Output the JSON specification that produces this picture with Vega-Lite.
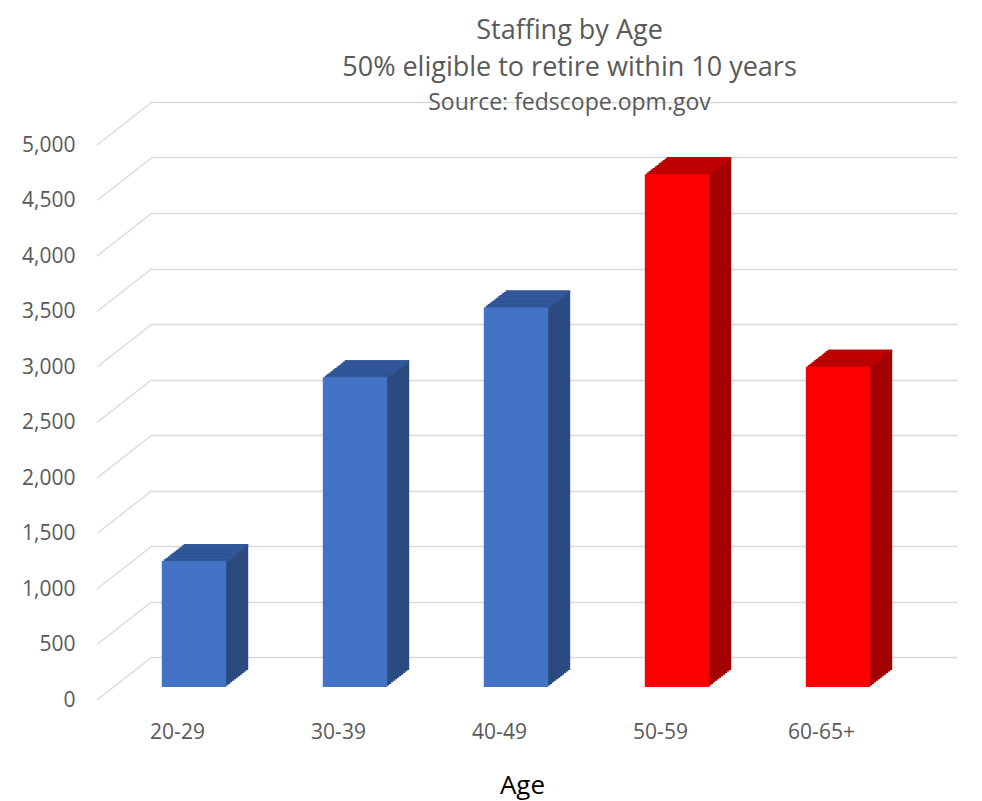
{
  "$schema": "https://vega.github.io/schema/vega-lite/v6.json",
  "width": 805,
  "height": 555,
  "autosize": {"type": "none"},
  "padding": {"left": 152, "top": 102, "right": 25, "bottom": 144},
  "background": "white",
  "config": {"view": {"stroke": null}, "font": "Open Sans"},
  "title": {
    "text": ["Staffing by Age", "50% eligible to retire within 10 years"],
    "subtitle": "Source: fedscope.opm.gov",
    "fontSize": 27,
    "fontWeight": "normal",
    "lineHeight": 37,
    "subtitleFontSize": 23,
    "subtitleColor": "#595959",
    "subtitlePadding": 10,
    "color": "#595959",
    "anchor": "middle",
    "dx": 15,
    "offset": -15
  },
  "data": {
    "values": [
      {"age": "20-29", "staff": 1135, "eligible": false},
      {"age": "30-39", "staff": 2790, "eligible": false},
      {"age": "40-49", "staff": 3420, "eligible": false},
      {"age": "50-59", "staff": 4620, "eligible": true},
      {"age": "60-65+", "staff": 2885, "eligible": true}
    ]
  },
  "encoding": {
    "x": {
      "field": "age", "type": "nominal", "sort": null,
      "scale": {"paddingInner": 0, "paddingOuter": 0},
      "axis": {
        "labelAngle": 0, "domain": false, "ticks": false,
        "labelOffset": -55, "labelPadding": 64,
        "labelFontSize": 21, "labelColor": "#595959",
        "title": "Age", "titleFontSize": 26, "titleColor": "#000000",
        "titleFontWeight": "normal", "titleX": 370, "titleY": 136,
        "titleBaseline": "alphabetic"
      }
    },
    "y": {
      "field": "staff", "type": "quantitative",
      "scale": {"domain": [0, 5000], "nice": false},
      "axis": {
        "values": [0, 500, 1000, 1500, 2000, 2500, 3000, 3500, 4000, 4500, 5000],
        "format": ",.0f", "domain": false, "ticks": false,
        "grid": true, "gridColor": "#D9D9D9", "gridWidth": 1.3,
        "labelOffset": 43, "labelPadding": 77,
        "labelFontSize": 21, "labelColor": "#595959", "title": null
      }
    }
  },
  "layer": [
    {
      "data": {"values": [{"v": 0}, {"v": 500}, {"v": 1000}, {"v": 1500}, {"v": 2000}, {"v": 2500}, {"v": 3000}, {"v": 3500}, {"v": 4000}, {"v": 4500}, {"v": 5000}]},
      "mark": {"type": "rule", "color": "#D9D9D9", "strokeWidth": 1.3, "x2Offset": -55, "y2Offset": 43},
      "encoding": {
        "x": {"datum": "20-29", "type": "nominal", "bandPosition": 0},
        "x2": {"datum": "20-29", "bandPosition": 0},
        "y": {"field": "v", "type": "quantitative", "title": null},
        "y2": {"field": "v"}
      }
    },
    {"mark": {"type": "bar", "width": {"band": 0.4}, "xOffset": -16.5, "x2Offset": -16.5, "yOffset": 13, "y2Offset": 13}, "encoding": {"color": {"condition": {"test": "datum.eligible", "value": "#A30000"}, "value": "#2B4A80"}}},
    {"mark": {"type": "bar", "width": {"band": 0.4}, "xOffset": -16.5, "x2Offset": -16.5, "yOffset": 13, "y2Offset": 15}, "encoding": {"y2": {"field": "staff"}, "color": {"condition": {"test": "datum.eligible", "value": "#C00000"}, "value": "#32579A"}}},
    {"mark": {"type": "bar", "width": {"band": 0.4}, "xOffset": -18.5, "x2Offset": -18.5, "yOffset": 14.545, "y2Offset": 14.545}, "encoding": {"color": {"condition": {"test": "datum.eligible", "value": "#A30000"}, "value": "#2B4A80"}}},
    {"mark": {"type": "bar", "width": {"band": 0.4}, "xOffset": -18.5, "x2Offset": -18.5, "yOffset": 14.545, "y2Offset": 16.545}, "encoding": {"y2": {"field": "staff"}, "color": {"condition": {"test": "datum.eligible", "value": "#C00000"}, "value": "#32579A"}}},
    {"mark": {"type": "bar", "width": {"band": 0.4}, "xOffset": -20.5, "x2Offset": -20.5, "yOffset": 16.091, "y2Offset": 16.091}, "encoding": {"color": {"condition": {"test": "datum.eligible", "value": "#A30000"}, "value": "#2B4A80"}}},
    {"mark": {"type": "bar", "width": {"band": 0.4}, "xOffset": -20.5, "x2Offset": -20.5, "yOffset": 16.091, "y2Offset": 18.091}, "encoding": {"y2": {"field": "staff"}, "color": {"condition": {"test": "datum.eligible", "value": "#C00000"}, "value": "#32579A"}}},
    {"mark": {"type": "bar", "width": {"band": 0.4}, "xOffset": -22.5, "x2Offset": -22.5, "yOffset": 17.636, "y2Offset": 17.636}, "encoding": {"color": {"condition": {"test": "datum.eligible", "value": "#A30000"}, "value": "#2B4A80"}}},
    {"mark": {"type": "bar", "width": {"band": 0.4}, "xOffset": -22.5, "x2Offset": -22.5, "yOffset": 17.636, "y2Offset": 19.636}, "encoding": {"y2": {"field": "staff"}, "color": {"condition": {"test": "datum.eligible", "value": "#C00000"}, "value": "#32579A"}}},
    {"mark": {"type": "bar", "width": {"band": 0.4}, "xOffset": -24.5, "x2Offset": -24.5, "yOffset": 19.182, "y2Offset": 19.182}, "encoding": {"color": {"condition": {"test": "datum.eligible", "value": "#A30000"}, "value": "#2B4A80"}}},
    {"mark": {"type": "bar", "width": {"band": 0.4}, "xOffset": -24.5, "x2Offset": -24.5, "yOffset": 19.182, "y2Offset": 21.182}, "encoding": {"y2": {"field": "staff"}, "color": {"condition": {"test": "datum.eligible", "value": "#C00000"}, "value": "#32579A"}}},
    {"mark": {"type": "bar", "width": {"band": 0.4}, "xOffset": -26.5, "x2Offset": -26.5, "yOffset": 20.727, "y2Offset": 20.727}, "encoding": {"color": {"condition": {"test": "datum.eligible", "value": "#A30000"}, "value": "#2B4A80"}}},
    {"mark": {"type": "bar", "width": {"band": 0.4}, "xOffset": -26.5, "x2Offset": -26.5, "yOffset": 20.727, "y2Offset": 22.727}, "encoding": {"y2": {"field": "staff"}, "color": {"condition": {"test": "datum.eligible", "value": "#C00000"}, "value": "#32579A"}}},
    {"mark": {"type": "bar", "width": {"band": 0.4}, "xOffset": -28.5, "x2Offset": -28.5, "yOffset": 22.273, "y2Offset": 22.273}, "encoding": {"color": {"condition": {"test": "datum.eligible", "value": "#A30000"}, "value": "#2B4A80"}}},
    {"mark": {"type": "bar", "width": {"band": 0.4}, "xOffset": -28.5, "x2Offset": -28.5, "yOffset": 22.273, "y2Offset": 24.273}, "encoding": {"y2": {"field": "staff"}, "color": {"condition": {"test": "datum.eligible", "value": "#C00000"}, "value": "#32579A"}}},
    {"mark": {"type": "bar", "width": {"band": 0.4}, "xOffset": -30.5, "x2Offset": -30.5, "yOffset": 23.818, "y2Offset": 23.818}, "encoding": {"color": {"condition": {"test": "datum.eligible", "value": "#A30000"}, "value": "#2B4A80"}}},
    {"mark": {"type": "bar", "width": {"band": 0.4}, "xOffset": -30.5, "x2Offset": -30.5, "yOffset": 23.818, "y2Offset": 25.818}, "encoding": {"y2": {"field": "staff"}, "color": {"condition": {"test": "datum.eligible", "value": "#C00000"}, "value": "#32579A"}}},
    {"mark": {"type": "bar", "width": {"band": 0.4}, "xOffset": -32.5, "x2Offset": -32.5, "yOffset": 25.364, "y2Offset": 25.364}, "encoding": {"color": {"condition": {"test": "datum.eligible", "value": "#A30000"}, "value": "#2B4A80"}}},
    {"mark": {"type": "bar", "width": {"band": 0.4}, "xOffset": -32.5, "x2Offset": -32.5, "yOffset": 25.364, "y2Offset": 27.364}, "encoding": {"y2": {"field": "staff"}, "color": {"condition": {"test": "datum.eligible", "value": "#C00000"}, "value": "#32579A"}}},
    {"mark": {"type": "bar", "width": {"band": 0.4}, "xOffset": -34.5, "x2Offset": -34.5, "yOffset": 26.909, "y2Offset": 26.909}, "encoding": {"color": {"condition": {"test": "datum.eligible", "value": "#A30000"}, "value": "#2B4A80"}}},
    {"mark": {"type": "bar", "width": {"band": 0.4}, "xOffset": -34.5, "x2Offset": -34.5, "yOffset": 26.909, "y2Offset": 28.909}, "encoding": {"y2": {"field": "staff"}, "color": {"condition": {"test": "datum.eligible", "value": "#C00000"}, "value": "#32579A"}}},
    {"mark": {"type": "bar", "width": {"band": 0.4}, "xOffset": -36.5, "x2Offset": -36.5, "yOffset": 28.455, "y2Offset": 28.455}, "encoding": {"color": {"condition": {"test": "datum.eligible", "value": "#A30000"}, "value": "#2B4A80"}}},
    {"mark": {"type": "bar", "width": {"band": 0.4}, "xOffset": -36.5, "x2Offset": -36.5, "yOffset": 28.455, "y2Offset": 30.455}, "encoding": {"y2": {"field": "staff"}, "color": {"condition": {"test": "datum.eligible", "value": "#C00000"}, "value": "#32579A"}}},
    {"mark": {"type": "bar", "width": {"band": 0.4}, "xOffset": -38.5, "x2Offset": -38.5, "yOffset": 30, "y2Offset": 30}, "encoding": {"color": {"condition": {"test": "datum.eligible", "value": "#FF0000"}, "value": "#4472C4"}}}
  ]
}
